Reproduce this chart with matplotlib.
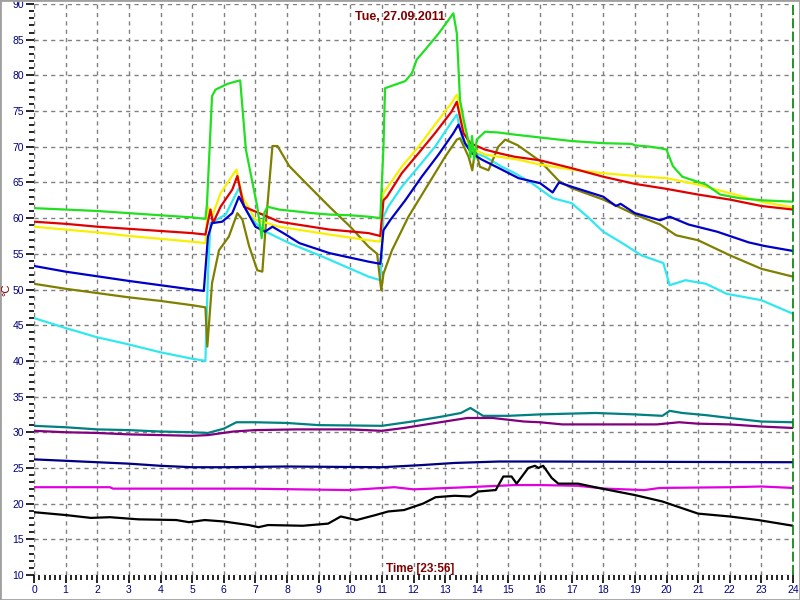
import matplotlib
matplotlib.use('Agg')
import matplotlib.pyplot as plt
from matplotlib.patches import Rectangle
from matplotlib.ticker import MultipleLocator

title = 'Tue, 27.09.2011'
time_label = 'Time [23:56]'
unit_label = '°C'

# hours / temperatures, one pair per probe
green_h = [0, 1, 2, 3, 4, 5, 5.42, 5.47, 5.63, 5.74, 6.11, 6.43, 6.52, 6.7, 7.06, 7.2, 7.28, 7.38, 7.75, 8.8, 9.34, 10, 10.58, 10.95,
           11.05, 11.1, 11.42, 11.74, 11.95, 12.1, 12.37, 12.8, 13.26, 13.37, 13.47, 13.6, 13.75, 13.8, 13.85, 13.92, 14.0, 14.26,
           14.68, 15.2, 16, 17, 18, 18.9, 19.0, 19.5, 19.8, 20.0, 20.2, 20.5, 21.25, 21.7, 22.3, 23, 24]
green_t = [61.4, 61.2, 61.0, 60.7, 60.4, 60.1, 59.9, 62.0, 77.1, 78.0, 78.8, 79.2, 79.3, 69.6, 61.6, 57.2, 60.7, 61.6, 61.2, 60.7, 60.5, 60.4, 60.2, 60.0,
           70.0, 78.2, 78.7, 79.2, 80.3, 82.2, 83.6, 85.9, 88.7, 85.9, 76.6, 73.5, 70.5, 68.5, 71.5, 68.2, 71.0, 72.1,
           72.0, 71.7, 71.3, 70.8, 70.5, 70.4, 70.2, 70.0, 69.8, 69.6, 67.3, 65.8, 64.7, 63.3, 62.8, 62.5, 62.3]

red_h = [0, 1, 2, 3, 4, 5, 5.42, 5.5, 5.58, 5.66, 5.9, 6.27, 6.43, 6.64, 7.12, 7.75, 9.34, 10.58, 10.95, 11.05, 11.16, 11.63, 12.16,
         12.68, 13.2, 13.37, 13.58, 13.8, 14.26, 14.79, 15.2, 16, 17, 18, 19, 20, 21, 22, 23, 24]
red_t = [59.5, 59.2, 58.8, 58.5, 58.2, 57.9, 57.7, 59.5, 61.2, 59.3, 61.6, 64.0, 65.9, 61.6, 60.7, 59.5, 58.4, 57.9, 57.5, 62.5, 63.0, 66.3, 69.1,
         71.9, 74.9, 76.3, 71.9, 70.5, 69.6, 69.0, 68.6, 68.1, 67.0, 65.8, 64.8, 64.1, 63.3, 62.6, 61.7, 61.2]

yellow_h = [0, 1, 2, 3, 4, 5, 5.42, 5.5, 5.63, 5.9, 6.4, 6.59, 7.0, 7.75, 9.34, 10.58, 10.95, 11.05, 11.63, 12.16, 12.68, 13.2,
            13.37, 13.47, 13.74, 14.26, 15.3, 16, 17, 18, 19, 20, 21, 22, 23, 24]
yellow_t = [58.8, 58.4, 58.0, 57.5, 57.1, 56.7, 56.5, 61.6, 60.2, 63.5, 66.8, 63.0, 59.8, 58.8, 57.7, 56.9, 56.7, 63.5, 67.2, 70.0, 73.1, 76.1,
            77.3, 75.6, 70.0, 68.9, 68.2, 67.5, 66.8, 66.3, 65.9, 65.6, 64.7, 63.5, 62.3, 61.5]

cyan_h = [0, 1, 2, 3, 4, 5, 5.42, 5.5, 5.58, 6.06, 6.48, 6.7, 7.0, 7.33, 8.07, 9.23, 10.58, 10.95, 11.05, 11.2, 11.63, 12.16, 12.68,
          13.15, 13.37, 13.58, 13.84, 14.26, 14.79, 15.2, 15.74, 16.4, 17, 17.5, 18, 18.6, 19.2, 19.9, 20.1, 20.6, 21.25, 21.9, 23, 24]
cyan_t = [46.0, 44.6, 43.3, 42.3, 41.2, 40.3, 40.0, 52.0, 59.3, 60.5, 64.2, 61.2, 59.3, 58.1, 56.5, 54.4, 51.8, 51.3, 60.2, 61.6, 64.4, 67.2, 70.0,
          73.1, 74.5, 70.5, 69.3, 68.6, 67.2, 66.3, 64.9, 62.8, 62.1, 60.2, 58.1, 56.5, 54.8, 53.7, 50.6, 51.3, 50.8, 49.4, 48.5, 46.6]

blue_h = [0, 1, 2, 3, 4, 5, 5.37, 5.5, 5.63, 5.95, 6.27, 6.48, 6.7, 7.0, 7.3, 7.54, 7.96, 8.39, 9.34, 10.58, 10.95, 11.05, 11.26,
          11.74, 12.26, 12.79, 13.26, 13.42, 13.63, 13.84, 14.16, 14.79, 15.32, 16, 16.4, 16.6, 17, 18, 18.4, 18.55, 19, 19.8,
          20.1, 20.7, 21.6, 22.6, 23.1, 24]
blue_t = [53.3, 52.5, 51.85, 51.2, 50.6, 50.0, 49.8, 57.4, 59.3, 59.5, 60.7, 63.0, 61.2, 58.8, 58.1, 58.8, 57.7, 56.5, 55.1, 53.9, 53.6, 58.3, 59.7,
          62.5, 65.8, 68.9, 71.9, 73.1, 70.5, 69.1, 68.2, 66.8, 65.6, 64.9, 63.6, 65.0, 64.4, 63.0, 61.7, 62.0, 60.7, 59.7,
          60.2, 59.1, 58.1, 56.6, 56.1, 55.4]

olive_h = [0, 1, 2, 3, 4, 5, 5.42, 5.48, 5.63, 5.85, 6.16, 6.43, 6.59, 6.8, 7.06, 7.22, 7.35, 7.54, 7.7, 8.07, 8.6, 9.34, 10.0,
           10.58, 10.85, 10.98, 11.05, 11.32, 11.84, 12.42, 13.0, 13.37, 13.47, 13.74, 13.86, 13.95, 14.1, 14.37, 14.68, 14.9,
           15.3, 16, 16.6, 17, 18, 19, 19.8, 20.3, 21, 22, 23, 24]
olive_t = [50.8, 50.1, 49.5, 48.9, 48.4, 47.8, 47.5, 42.0, 50.9, 55.5, 57.4, 60.7, 59.8, 56.1, 52.7, 52.5, 60.2, 70.1, 70.1, 67.3, 64.9, 61.6, 58.8,
           56.0, 55.0, 49.9, 52.2, 55.5, 60.2, 64.4, 68.6, 71.0, 71.2, 68.6, 66.7, 69.6, 67.2, 66.7, 70.0, 71.0,
           70.2, 68.0, 65.2, 64.2, 62.6, 60.5, 59.1, 57.6, 56.9, 54.8, 52.9, 51.8]

teal_h = [0, 1, 2, 3, 4, 5, 5.5, 6.0, 6.4, 7, 8, 9, 11, 11.95, 12.9, 13.5, 13.8, 14.2, 15, 16, 17.75, 19, 19.87, 20.1, 20.5, 21.24, 22, 23, 24]
teal_t = [30.9, 30.7, 30.4, 30.3, 30.1, 30.0, 29.9, 30.5, 31.4, 31.4, 31.3, 31.0, 30.9, 31.5, 32.2, 32.7, 33.4, 32.3, 32.3, 32.5, 32.7, 32.5, 32.3, 33.0, 32.7, 32.4, 32.0, 31.5, 31.4]

purple_h = [0, 1, 2, 3, 4, 5, 5.5, 6.3, 7, 8.3, 10, 11, 11.7, 12.7, 13.7, 14.5, 15.5, 16, 16.7, 19.7, 20.4, 21, 22, 23, 24]
purple_t = [30.2, 30.0, 29.9, 29.7, 29.6, 29.5, 29.6, 30.1, 30.3, 30.4, 30.4, 30.2, 30.6, 31.3, 32.0, 32.0, 31.5, 31.4, 31.1, 31.1, 31.4, 31.2, 31.1, 30.8, 30.6]

navy_h = [0, 1, 2, 3, 4, 5, 6, 8, 11, 12.26, 13.3, 14.7, 16, 24]
navy_t = [26.2, 26.0, 25.8, 25.6, 25.3, 25.1, 25.1, 25.2, 25.1, 25.4, 25.7, 25.9, 25.9, 25.8]

magenta_h = [0, 2.4, 2.5, 6.8, 9.95, 11.4, 12, 13.7, 15.2, 16, 17.2, 18.06, 19.3, 19.8, 22, 23, 24]
magenta_t = [22.3, 22.3, 22.1, 22.1, 21.9, 22.3, 22.0, 22.3, 22.6, 22.6, 22.5, 22.1, 21.9, 22.2, 22.3, 22.4, 22.2]

black_h = [0, 1, 1.8, 2.4, 3.3, 4.5, 4.9, 5.4, 6.0, 6.79, 7.1, 7.4, 8.5, 9.3, 9.7, 10.2, 10.8, 11.2, 11.7, 12.3, 12.7, 13.3, 13.8,
           14.05, 14.6, 14.84, 15.1, 15.26, 15.63, 15.84, 15.95, 16.1, 16.37, 16.58, 17.2, 17.96, 19, 19.87, 20.2, 21, 22, 22.9, 24]
black_t = [18.8, 18.4, 18.0, 18.1, 17.8, 17.7, 17.4, 17.7, 17.5, 17.0, 16.7, 17.0, 16.9, 17.2, 18.2, 17.7, 18.4, 18.9, 19.1, 20.0, 20.9, 21.1, 21.0,
           21.7, 21.9, 23.8, 23.8, 22.8, 25.0, 25.3, 25.0, 25.3, 23.6, 22.8, 22.8, 22.1, 21.2, 20.3, 19.8, 18.6, 18.2, 17.7, 16.9]


def main():
    fig = plt.figure(figsize=(8, 6), dpi=100)
    fig.patch.set_facecolor('white')
    ax = fig.add_axes([34/800, 25/600, 759/800, 571/600])

    ax.set_xlim(0, 24)
    ax.set_ylim(10, 90)
    for s in ax.spines.values():
        s.set_visible(False)

    ax.xaxis.set_major_locator(MultipleLocator(1))
    ax.xaxis.set_minor_locator(MultipleLocator(1/6))
    ax.yaxis.set_major_locator(MultipleLocator(5))
    ax.yaxis.set_minor_locator(MultipleLocator(1))
    ax.tick_params(which='major', direction='out', length=5.8, width=1.2, color='black',
                   labelcolor='#000080', labelsize=7.5, pad=1.5)
    ax.tick_params(which='minor', direction='out', length=3.6, width=1.2, color='black')
    for lab in ax.get_xticklabels() + ax.get_yticklabels():
        lab.set_family('Liberation Sans')

    ax.grid(which='major', color='#808080', linestyle=(0, (3, 3)), linewidth=1)

    # order matters a bit for overlaps
    lw = 1.6
    ax.plot(teal_h, teal_t, color='#008080', lw=lw)
    ax.plot(purple_h, purple_t, color='#800080', lw=lw)
    ax.plot(navy_h, navy_t, color='#000080', lw=lw)
    ax.plot(magenta_h, magenta_t, color='#e000e0', lw=lw)
    ax.plot(black_h, black_t, color='black', lw=lw)
    ax.plot(cyan_h, cyan_t, color='#30e8f0', lw=lw)
    ax.plot(olive_h, olive_t, color='#808000', lw=lw)
    ax.plot(yellow_h, yellow_t, color='#f8f000', lw=lw)
    ax.plot(red_h, red_t, color='#e00000', lw=lw)
    ax.plot(blue_h, blue_t, color='#0000c8', lw=lw)
    ax.plot(green_h, green_t, color='#20e020', lw=lw)

    ax.axvline(24, color='#008000', linestyle=(0, (6, 2)), lw=1.2, clip_on=False)

    fig.text(0.5, 1 - 17/600, title, color='#800000', fontsize=9, fontweight='bold',
             family='Liberation Sans', ha='center', va='center')
    fig.text(420/800, 1 - 569/600, time_label, color='#800000', fontsize=8.5, fontweight='bold',
             family='Liberation Sans', ha='center', va='center')
    fig.text(6/800, 1 - 290/600, unit_label, color='#800000', fontsize=8, rotation=90,
             family='Liberation Sans', ha='center', va='center')

    fig.patches.append(Rectangle((0, 0), 1, 1, transform=fig.transFigure, fill=False,
                                 edgecolor='#a0a0a0', lw=2))

    fig.savefig('out.png', dpi=100)


if __name__ == '__main__':
    main()
